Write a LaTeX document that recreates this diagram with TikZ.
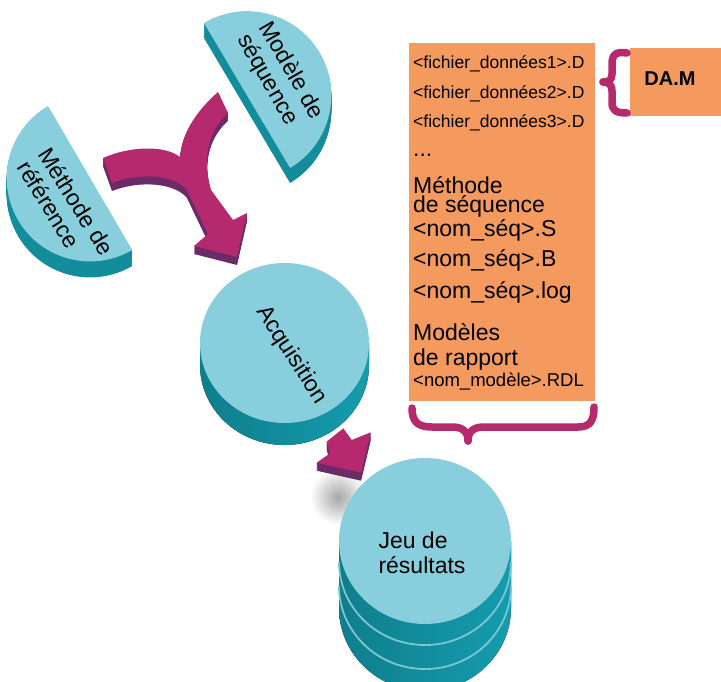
\documentclass[tikz,border=0pt]{standalone}
\usepackage{fontspec}
\setmainfont{Liberation Sans}
\definecolor{topc}{HTML}{89CEDC}
\definecolor{sidec}{HTML}{138D9B}
\definecolor{sidel}{HTML}{0F7E8C}
\definecolor{sider}{HTML}{159CAE}
\definecolor{mag}{HTML}{B5296F}
\definecolor{magd}{HTML}{6B2B66}
\definecolor{orng}{HTML}{F59A5E}
\definecolor{ringc}{HTML}{7CC6D3}
\tikzset{
  disktxt/.style={font=\fontsize{23}{25}\selectfont, inner sep=0pt, align=left},
  ftxt/.style={font=\fontsize{17.5}{20}\selectfont, anchor=base west, inner sep=0pt},
  btxt/.style={font=\fontsize{23}{26}\selectfont, anchor=base west, inner sep=0pt},
  bracestyle/.style={draw=mag, line width=7.5pt, line cap=round, line join=round}
}
\begin{document}
\begin{tikzpicture}[x=1pt,y=1pt]
\useasboundingbox (0,0) rectangle (721,-681);

% ---------- half disk: Modele de sequence ----------
\foreach \d in {1,...,15}
  \fill[sidec, shift={(0,-\d)}] (204,-23) arc[start angle=120.7, end angle=-59.3, radius=84.3] -- cycle;
\fill[topc] (204,-23) arc[start angle=120.7, end angle=-59.3, radius=84.3] -- cycle;
\node[disktxt, rotate=-60] (modtxt) at (280,-77) {Modèle de\\séquence};

% ---------- half disk: Methode de reference ----------
\foreach \d in {1,...,16}
  \fill[sidec, shift={(0,-\d)}] (48,-106) arc[start angle=120.3, end angle=300.3, radius=83.4] -- cycle;
\fill[topc] (48,-106) arc[start angle=120.3, end angle=300.3, radius=83.4] -- cycle;
\node[disktxt, rotate=-58] (methtxt) at (66,-208) {Méthode de\\référence};

% ---------- Y arrow ----------
\def\yarrow{(103,-158) .. controls (130,-146) and (165,-145) .. (180,-157)
  .. controls (182,-130) and (200,-108) .. (218,-92)
  -- (228,-113)
  .. controls (208,-130) and (202,-160) .. (211,-190)
  -- (233,-220) -- (247,-213) -- (237,-257) -- (194,-246) -- (208,-234) -- (187,-190)
  .. controls (175,-175) and (140,-172) .. (112,-183) -- cycle}
\foreach \d in {1,...,8}
  \fill[magd, shift={(0,-\d)}] \yarrow;
\fill[mag] \yarrow;

% ---------- Acquisition disk ----------
\fill[left color=sidel, right color=sider] (200,-343) -- (200,-365)
  arc[start angle=180, end angle=360, x radius=84.5, y radius=80] -- (369,-343) -- cycle;
\fill[topc] (284.5,-343) ellipse[x radius=84.5, y radius=80];
\node[disktxt, rotate=-57] (acq) at (291.5,-355) {Acquisition};

% ---------- shadow ----------
\shade[inner color=black!35, outer color=white] (338,-497) circle[radius=28];

% ---------- Jeu de resultats stack ----------
\fill[left color=sidel, right color=sider] (339,-541) -- (339,-608)
  arc[start angle=180, end angle=360, x radius=86, y radius=83] -- (511,-541) -- cycle;
\draw[ringc, line width=1.8pt] (339,-562) arc[start angle=180, end angle=360, x radius=86, y radius=83];
\draw[ringc, line width=1.8pt] (339,-586) arc[start angle=180, end angle=360, x radius=86, y radius=83];
\fill[topc] (425,-541) ellipse[x radius=86, y radius=83];
\node[disktxt] (jeu) at (422,-553) {Jeu de\\résultats};

% ---------- small arrow ----------
\def\sarrow{(326.7,-441.7) -- (343.3,-428.3) -- (351.7,-440) -- (370.7,-432.3) -- (361,-472.7) -- (316.7,-462.7) -- (330,-453.3) -- cycle}
\foreach \d in {1,...,8}
  \fill[magd, shift={(0,-\d)}] \sarrow;
\fill[mag] \sarrow;

% ---------- orange file box ----------
\fill[orng] (409,-43) rectangle (595,-401);
\node[ftxt] (f1) at (413,-68) {<fichier\_données1>.D};
\node[ftxt] (f2) at (413,-98) {<fichier\_données2>.D};
\node[ftxt] (f3) at (413,-127.7) {<fichier\_données3>.D};
\node[btxt] (dots) at (413,-156) {...};
\node[btxt] (meth1) at (413,-193) {Méthode};
\node[btxt] (meth2) at (413,-212.7) {de séquence};
\node[btxt] (seqS) at (413,-236.7) {<nom\_séq>.S};
\node[btxt] (seqB) at (413,-266.7) {<nom\_séq>.B};
\node[btxt] (seqL) at (413,-298) {<nom\_séq>.log};
\node[btxt] (mod1) at (413,-340) {Modèles};
\node[btxt] (mod2) at (413,-365) {de rapport};
\node[ftxt, font=\fontsize{18.5}{21}\selectfont] (rdl) at (413,-386.7) {<nom\_modèle>.RDL};

% ---------- DA.M box ----------
\fill[orng] (630,-48) rectangle (721,-116);
\node[font=\bfseries\fontsize{20}{24}\selectfont, anchor=base, inner sep=0pt] (dam) at (670,-85) {DA.M};

% ---------- braces ----------
\draw[bracestyle] (627,-53) .. controls (614,-51) and (612,-56) .. (612,-65) -- (612,-74)
  .. controls (612,-80) and (609,-82) .. (603,-82);
\draw[bracestyle] (603,-82) .. controls (609,-82) and (612,-85) .. (612,-91) -- (612,-102)
  .. controls (612,-110) and (615,-113) .. (627,-113);
\draw[bracestyle] (412,-408) .. controls (412,-422) and (418,-427) .. (432,-427) -- (452,-427)
  .. controls (462,-427) and (468,-431) .. (468,-441);
\draw[bracestyle] (468,-441) .. controls (468,-431) and (474,-427) .. (484,-427) -- (578,-427)
  .. controls (590,-427) and (594,-421) .. (594,-407);
\end{tikzpicture}
\end{document}
